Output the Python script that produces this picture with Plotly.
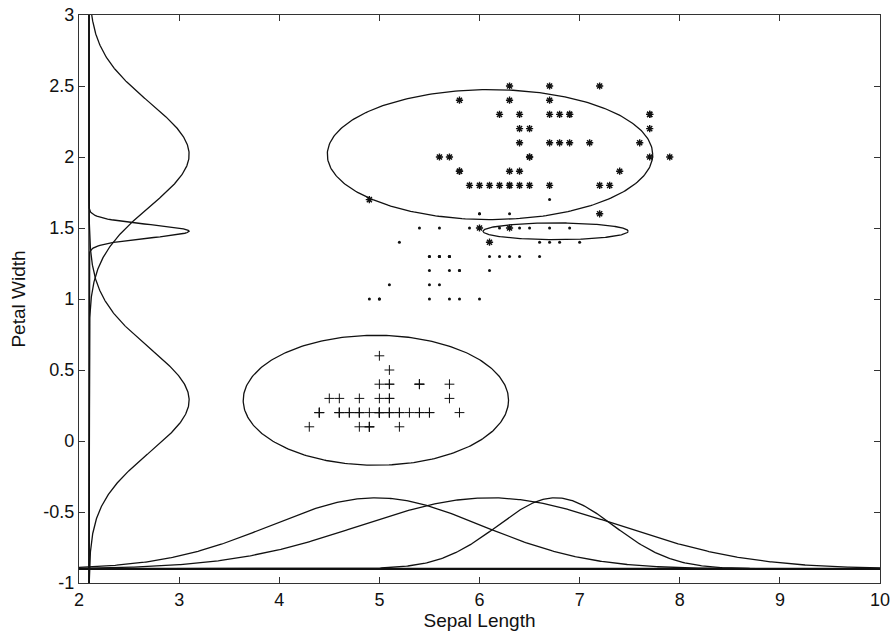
import numpy as np
import plotly.graph_objects as go

# Iris measurements: sepal length (cm) and petal width (cm) per species
setosa_sepal_len = [5.1, 4.9, 4.7, 4.6, 5.0, 5.4, 4.6, 5.0, 4.4, 4.9, 5.4, 4.8, 4.8, 4.3, 5.8, 5.7, 5.4,
                    5.1, 5.7, 5.1, 5.4, 5.1, 4.6, 5.1, 4.8, 5.0, 5.0, 5.2, 5.2, 4.7, 4.8, 5.4, 5.2, 5.5,
                    4.9, 5.0, 5.5, 4.9, 4.4, 5.1, 5.0, 4.5, 4.4, 5.0, 5.1, 4.8, 5.1, 4.6, 5.3, 5.0]
setosa_petal_wid = [0.2, 0.2, 0.2, 0.2, 0.2, 0.4, 0.3, 0.2, 0.2, 0.1, 0.2, 0.2, 0.1, 0.1, 0.2, 0.4, 0.4,
                    0.3, 0.3, 0.3, 0.2, 0.4, 0.2, 0.5, 0.2, 0.2, 0.4, 0.2, 0.2, 0.2, 0.2, 0.4, 0.1, 0.2,
                    0.1, 0.2, 0.2, 0.1, 0.2, 0.2, 0.3, 0.3, 0.2, 0.6, 0.4, 0.3, 0.2, 0.2, 0.2, 0.2]

versicolor_sepal_len = [7.0, 6.4, 6.9, 5.5, 6.5, 5.7, 6.3, 4.9, 6.6, 5.2, 5.0, 5.9, 6.0, 6.1, 5.6, 6.7, 5.6,
                        5.8, 6.2, 5.6, 5.9, 6.1, 6.3, 6.1, 6.4, 6.6, 6.8, 6.7, 6.0, 5.7, 5.5, 5.5, 5.8, 6.0,
                        5.4, 6.0, 6.7, 6.3, 5.6, 5.5, 5.5, 6.1, 5.8, 5.0, 5.6, 5.7, 5.7, 6.2, 5.1, 5.7]
versicolor_petal_wid = [1.4, 1.5, 1.5, 1.3, 1.5, 1.3, 1.6, 1.0, 1.3, 1.4, 1.0, 1.5, 1.0, 1.4, 1.3, 1.4, 1.5,
                        1.0, 1.5, 1.1, 1.8, 1.3, 1.5, 1.2, 1.3, 1.4, 1.4, 1.7, 1.5, 1.0, 1.1, 1.0, 1.2, 1.6,
                        1.5, 1.6, 1.5, 1.3, 1.3, 1.3, 1.2, 1.4, 1.2, 1.0, 1.3, 1.2, 1.3, 1.3, 1.1, 1.3]

virginica_sepal_len = [6.3, 5.8, 7.1, 6.3, 6.5, 7.6, 4.9, 7.3, 6.7, 7.2, 6.5, 6.4, 6.8, 5.7, 5.8, 6.4, 6.5,
                       7.7, 7.7, 6.0, 6.9, 5.6, 7.7, 6.3, 6.7, 7.2, 6.2, 6.1, 6.4, 7.2, 7.4, 7.9, 6.4, 6.3,
                       6.1, 7.7, 6.3, 6.4, 6.0, 6.9, 6.7, 6.9, 5.8, 6.8, 6.7, 6.7, 6.3, 6.5, 6.2, 5.9]
virginica_petal_wid = [2.5, 1.9, 2.1, 1.8, 2.2, 2.1, 1.7, 1.8, 1.8, 2.5, 2.0, 1.9, 2.1, 2.0, 2.4, 2.3, 1.8,
                       2.2, 2.3, 1.5, 2.3, 2.0, 2.0, 1.8, 2.1, 1.8, 1.8, 1.8, 2.1, 1.6, 1.9, 2.0, 2.2, 1.5,
                       1.4, 2.3, 2.4, 1.8, 1.8, 2.1, 2.4, 2.3, 1.9, 2.3, 2.5, 2.3, 1.9, 2.0, 2.3, 1.8]

# Fitted Gaussian components (axis-aligned): means and standard deviations
comp_mean_x = [4.965, 6.105, 6.76]
comp_mean_y = [0.287, 2.017, 1.477]
comp_sd_x = [1.06, 1.30, 0.58]
comp_sd_y = [0.366, 0.366, 0.047]
ellipse_scale = 1.25          # contour radius in standard deviations

# Marginal density strips: baseline position and peak height
x_marg_base, x_marg_height = -0.9, 0.5
y_marg_base, y_marg_height = 2.1, 1.0

x_range = [2, 10]
y_range = [-1, 3]
x_tick_vals = [2, 3, 4, 5, 6, 7, 8, 9, 10]
x_tick_text = ["2", "3", "4", "5", "6", "7", "8", "9", "10"]
y_tick_vals = [-1, -0.5, 0, 0.5, 1, 1.5, 2, 2.5, 3]
y_tick_text = ["-1", "-0.5", "0", "0.5", "1", "1.5", "2", "2.5", "3"]

INK = "#111111"
fig = go.Figure()

# Baselines of the marginal strips
fig.add_trace(go.Scatter(x=x_range, y=[x_marg_base, x_marg_base], mode="lines",
                         line=dict(color=INK, width=2.2), hoverinfo="skip"))
fig.add_trace(go.Scatter(x=[y_marg_base, y_marg_base], y=y_range, mode="lines",
                         line=dict(color=INK, width=1.4), hoverinfo="skip"))

xs = np.linspace(x_range[0], x_range[1], 600)
ys = np.linspace(y_range[0], y_range[1], 800)
t = np.linspace(0, 2 * np.pi, 300)
for mx, my, sx, sy in zip(comp_mean_x, comp_mean_y, comp_sd_x, comp_sd_y):
    # marginal along sepal length (bottom strip)
    fig.add_trace(go.Scatter(
        x=xs, y=x_marg_base + x_marg_height * np.exp(-0.5 * ((xs - mx) / sx) ** 2),
        mode="lines", line=dict(color=INK, width=1.3), hoverinfo="skip"))
    # marginal along petal width (left strip)
    fig.add_trace(go.Scatter(
        x=y_marg_base + y_marg_height * np.exp(-0.5 * ((ys - my) / sy) ** 2), y=ys,
        mode="lines", line=dict(color=INK, width=1.3), hoverinfo="skip"))
    # component contour
    fig.add_trace(go.Scatter(
        x=mx + ellipse_scale * sx * np.cos(t), y=my + ellipse_scale * sy * np.sin(t),
        mode="lines", line=dict(color=INK, width=1.3), hoverinfo="skip"))

# Observations
fig.add_trace(go.Scatter(x=setosa_sepal_len, y=setosa_petal_wid, mode="markers",
                         marker=dict(symbol="cross-thin-open", size=7, color=INK,
                                     line=dict(color=INK, width=1))))
fig.add_trace(go.Scatter(x=versicolor_sepal_len, y=versicolor_petal_wid, mode="markers",
                         marker=dict(symbol="circle", size=3, color=INK, line=dict(width=0))))
fig.add_trace(go.Scatter(x=virginica_sepal_len, y=virginica_petal_wid, mode="markers",
                         marker=dict(symbol="asterisk-open", size=6, color=INK,
                                     line=dict(color=INK, width=1.4))))

axis_common = dict(showgrid=False, zeroline=False, showline=True, mirror="ticks",
                   linecolor="#333333", linewidth=1.2, ticks="inside", ticklen=6,
                   tickwidth=1, tickcolor="#333333", automargin=False,
                   tickfont=dict(family="Liberation Sans, Arial, sans-serif", size=18, color="#111111"))

fig.update_layout(
    width=891, height=637,
    margin=dict(l=79, r=11, t=15, b=54, autoexpand=False),
    paper_bgcolor="white", plot_bgcolor="white",
    showlegend=False,
    font=dict(family="Liberation Sans, Arial, sans-serif", color="#111111"),
    xaxis=dict(range=x_range, tickmode="array", tickvals=x_tick_vals, ticktext=x_tick_text,
               title=dict(text="Sepal Length", font=dict(size=19), standoff=2),
               **axis_common),
    yaxis=dict(range=y_range, tickmode="array", tickvals=y_tick_vals, ticktext=y_tick_text,
               title=dict(text="Petal Width", font=dict(size=19), standoff=12),
               **axis_common),
)

fig.write_html("out.html")
